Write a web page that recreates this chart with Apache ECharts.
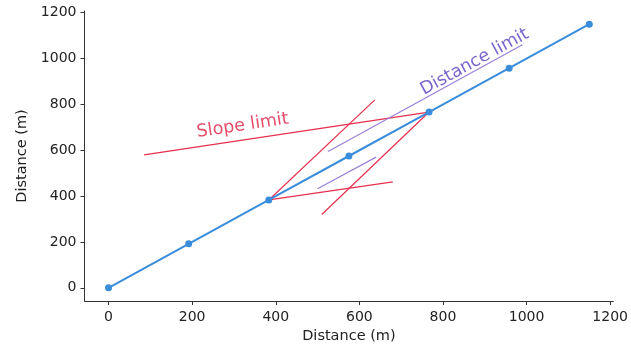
<!DOCTYPE html>
<html>
<head>
<meta charset="utf-8">
<script src="https://cdn.jsdelivr.net/npm/echarts@6/dist/echarts.min.js"></script>
<style>html,body{margin:0;padding:0;background:#fff;}#c{width:631px;height:350px;}</style>
</head>
<body>
<div id="c"></div>
<script>
// Main path points
const pathX = [0, 191.7, 383.3, 575, 766.7, 958.3, 1150];
const pathY = [0, 191.7, 383.3, 575, 766.7, 958.3, 1150];
// Slope limit lines (pairs of [x, y])
const slopeLine1 = [[85, 580], [766.7, 766.7]];
const slopeLine2 = [[383.3, 383.3], [637, 820]];
const slopeLine3 = [[766.7, 766.7], [510, 320]];
const slopeLine4 = [[383.3, 383.3], [680, 462]];
// Distance limit lines
const distLine1 = [[525, 595], [990, 1060]];
const distLine2 = [[500, 432], [640, 570]];
// Annotation positions
const slopeLabelPos = [321, 707];
const distLabelPos = [876, 985];
// Tick labels
const tickValues = [0, 200, 400, 600, 800, 1000, 1200];

const font = 'DejaVu Sans';
const red = '#e6304f';
const purple = '#9a80d8';
const blue = '#3a8ddb';

function seg(data, color) {
  return {
    type: 'line', data: data, showSymbol: false, silent: true,
    lineStyle: { color: color, width: 1.2 }, z: 2, animation: false
  };
}

const chart = echarts.init(document.getElementById('c'), null, { renderer: 'canvas' });
function axisCommon(margin) {
  return {
    type: 'value', min: -57.5, max: 1207.5,
    splitLine: { show: false },
    axisLine: { show: true, onZero: false, lineStyle: { color: '#333', width: 1 } },
    axisTick: { show: true, inside: false, length: 4, customValues: tickValues, lineStyle: { color: '#333' } },
    axisLabel: { customValues: tickValues, fontFamily: font, fontSize: 14, color: '#222', margin: margin,
      formatter: function (v) { return String(v); } },
    nameLocation: 'middle',
    nameTextStyle: { fontFamily: font, fontSize: 14.5, color: '#222' }
  };
}
chart.setOption({
  animation: false,
  backgroundColor: '#fff',
  grid: { left: 84.5, right: 17, top: 11, bottom: 49, containLabel: false },
  xAxis: Object.assign(axisCommon(9), { name: 'Distance (m)', nameGap: 25 }),
  yAxis: Object.assign(axisCommon(8), { name: 'Distance (m)', nameGap: 55 }),
  series: [
    seg(slopeLine1, red), seg(slopeLine2, red), seg(slopeLine3, red), seg(slopeLine4, red),
    seg(distLine1, purple), seg(distLine2, purple),
    {
      type: 'line', data: pathX.map((x, i) => [x, pathY[i]]),
      symbol: 'circle', symbolSize: 7, showSymbol: true,
      lineStyle: { color: blue, width: 2 }, itemStyle: { color: blue },
      z: 3
    },
    {
      type: 'scatter', symbolSize: 0, silent: true,
      data: [
        { value: slopeLabelPos, label: { formatter: 'Slope limit', color: '#e01f45', rotate: 8.5 } },
        { value: distLabelPos, label: { formatter: 'Distance limit', color: '#5a3fc0', rotate: 28.7 } }
      ],
      label: { show: true, position: 'inside', fontFamily: font, fontSize: 17.5 }
    }
  ]
});
</script>
</body>
</html>
